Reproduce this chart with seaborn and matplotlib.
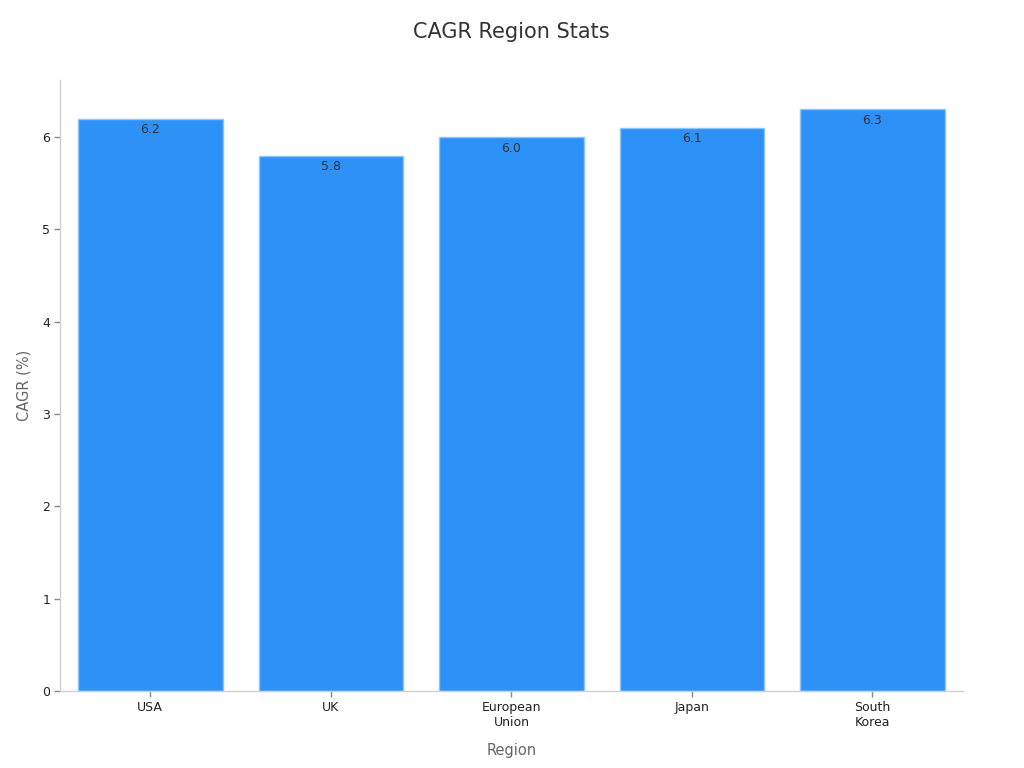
import pandas as pd
import matplotlib.pyplot as plt
import seaborn as sns

# Data CAGR per region
regions = ['USA', 'UK', 'European\nUnion', 'Japan', 'South\nKorea']
cagr = [6.2, 5.8, 6.0, 6.1, 6.3]

df = pd.DataFrame({'Region': regions, 'CAGR (%)': cagr})

sns.set_style('white')
plt.rcParams['font.family'] = ['DejaVu Sans']

fig = plt.figure(figsize=(10.24, 7.68), dpi=100)
ax = fig.add_axes([0.0586, 0.1003, 0.8816, 0.7957])

sns.barplot(data=df, x='Region', y='CAGR (%)', color='#2E91F8', width=0.8,
            edgecolor='#8CC4FB', linewidth=1, saturation=1, ax=ax)

for i, v in enumerate(cagr):
    ax.text(i, v - 0.05, f'{v:.1f}', ha='center', va='top', fontsize=9, color='#333333')

ax.set_xlim(-0.5, 4.5)
ax.set_ylim(0, 6.62)
ax.set_yticks(range(0, 7))
ax.tick_params(axis='both', bottom=True, left=True, labelsize=9, colors='#222222',
               length=4, width=1, color='#888888', pad=3)

sns.despine(ax=ax)
for s in ['left', 'bottom']:
    ax.spines[s].set_color('#d0d0d0')
    ax.spines[s].set_linewidth(1)

ax.set_title('CAGR Region Stats', fontsize=15, color='#333333', pad=30)
ax.set_xlabel('Region', fontsize=10.5, color='#666666', labelpad=10)
ax.set_ylabel('CAGR (%)', fontsize=10.5, color='#666666', labelpad=8)

fig.savefig('out.png', dpi=100)
